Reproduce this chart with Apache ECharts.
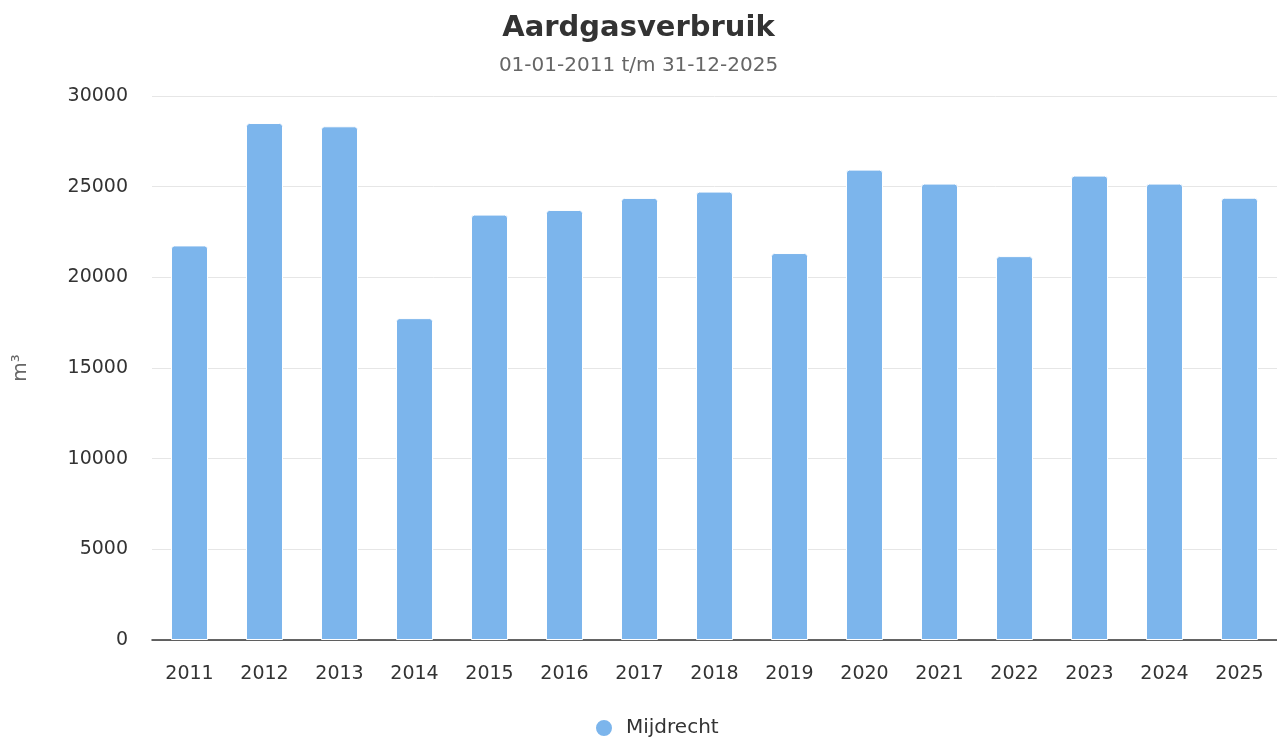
<!DOCTYPE html>
<html>
<head>
<meta charset="utf-8">
<script src="https://cdn.jsdelivr.net/npm/echarts@6/dist/echarts.min.js"></script>
<style>
  html, body { margin: 0; padding: 0; background: #fff; }
  #chart { width: 1277px; height: 740px; }
</style>
</head>
<body>
<div id="chart"></div>
<script>
const years = ['2011', '2012', '2013', '2014', '2015', '2016', '2017', '2018',
  '2019', '2020', '2021', '2022', '2023', '2024', '2025']
const verbruik = [21760, 28510, 28330, 17750, 23460, 23715, 24380, 24730,
  21340, 25940, 25170, 21170, 25610, 25170, 24390]
const seriesName = 'Mijdrecht'

const font = 'DejaVu Sans'

const chart = echarts.init(document.getElementById('chart'))

chart.setOption({
  animation: false,
  textStyle: { fontFamily: font },
  title: {
    text: 'Aardgasverbruik',
    subtext: '01-01-2011 t/m 31-12-2025',
    left: 'center',
    top: 9,
    itemGap: 13,
    textStyle: { fontFamily: font, fontSize: 29, fontWeight: 'bold', color: '#333' },
    subtextStyle: { fontFamily: font, fontSize: 20, color: '#666' }
  },
  legend: {
    bottom: -3,
    left: 589,
    icon: 'circle',
    itemWidth: 18,
    itemHeight: 18,
    itemGap: 10,
    textStyle: { fontFamily: font, fontSize: 20, color: '#333', padding: [0, 0, 0, 8] },
    data: [seriesName]
  },
  grid: {
    left: 152,
    right: 0,
    top: 96,
    bottom: 100,
    outerBoundsMode: 'none'
  },
  xAxis: {
    type: 'category',
    data: years,
    axisLine: { lineStyle: { color: '#333', width: 1.5 } },
    axisTick: { show: false },
    axisLabel: { fontFamily: font, fontSize: 19, color: '#333', margin: 25 }
  },
  yAxis: {
    type: 'value',
    min: 0,
    max: 30000,
    interval: 5000,
    name: 'm³',
    nameLocation: 'middle',
    nameRotate: 90,
    nameGap: 121,
    nameTextStyle: { fontFamily: font, fontSize: 20, color: '#666' },
    axisLine: { show: false },
    axisTick: { show: false },
    axisLabel: {
      fontFamily: font,
      fontSize: 19,
      color: '#333',
      margin: 24,
      formatter: (v) => String(v)
    },
    splitLine: { lineStyle: { color: '#e6e6e6', width: 1 } }
  },
  series: [
    {
      name: seriesName,
      type: 'bar',
      data: verbruik,
      barWidth: 37,
      itemStyle: {
        color: '#7cb5ec',
        borderColor: '#ffffff',
        borderWidth: 1,
        borderRadius: [3, 3, 0, 0]
      }
    }
  ]
})
</script>
</body>
</html>
